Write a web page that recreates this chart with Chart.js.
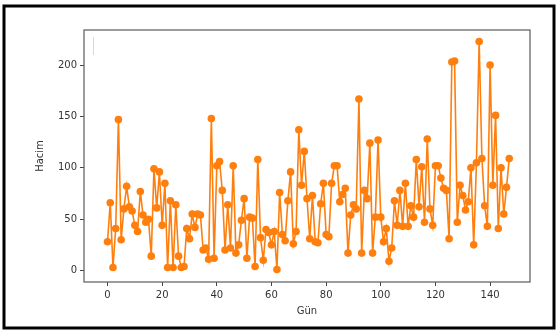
<!DOCTYPE html>
<html>
<head>
<meta charset="utf-8">
<script src="https://cdn.jsdelivr.net/npm/chart.js@4.4.1/dist/chart.umd.min.js"></script>
<style>
  html, body { margin: 0; padding: 0; background: #fff; }
</style>
</head>
<body>
<canvas id="chart" width="558" height="331"></canvas>
<script>
// daily volume ("Hacim") per day ("Gün")
var hacim = [
  28, 66, 3, 41, 147, 30, 60, 82, 62, 58,
  44, 38, 77, 54, 47, 50, 14, 99, 61, 96,
  44, 85, 3, 68, 3, 64, 14, 3, 4, 41,
  31, 55, 42, 55, 54, 20, 22, 11, 148, 12,
  102, 106, 78, 20, 64, 22, 102, 17, 25, 49,
  70, 12, 52, 51, 4, 108, 32, 10, 40, 37,
  25, 38, 1, 76, 35, 29, 68, 96, 26, 38,
  137, 83, 116, 70, 31, 73, 28, 27, 65, 85,
  35, 33, 85, 102, 102, 67, 74, 80, 17, 54,
  64, 60, 167, 17, 78, 70, 124, 17, 52, 127,
  52, 28, 41, 9, 22, 68, 44, 78, 43, 85,
  43, 63, 52, 108, 62, 101, 47, 128, 60, 44,
  102, 102, 90, 80, 78, 31, 203, 204, 47, 83,
  73, 59, 67, 100, 25, 105, 223, 109, 63, 43,
  200, 83, 151, 41, 100, 55, 81, 109
];
var xTicks = [0, 20, 40, 60, 80, 100, 120, 140];
var yTicks = [0, 50, 100, 150, 200];

var points = hacim.map(function(v, i){ return {x: i, y: v}; });

var tickFont = {family: 'DejaVu Sans', size: 10};
var orange = '#ff7f0e';

var frame = {
  id: 'frame',
  afterDraw: function(chart){
    var c = chart.ctx, a = chart.chartArea;
    c.save();
    c.strokeStyle = '#5a5a5a';
    c.lineWidth = 1.2;
    c.strokeRect(a.left, a.top, a.right - a.left, a.bottom - a.top);
    // faint leftover line from the screenshot
    c.strokeStyle = '#d8d8d8';
    c.lineWidth = 1;
    c.beginPath(); c.moveTo(a.left + 9.5, a.top + 7); c.lineTo(a.left + 9.5, a.top + 25); c.stroke();
    // outer black border of the screenshot
    c.strokeStyle = '#000';
    c.lineWidth = 3;
    c.strokeRect(4, 6, 550, 322);
    c.restore();
  }
};

new Chart(document.getElementById('chart'), {
  type: 'line',
  data: {
    datasets: [{
      data: points,
      borderColor: orange,
      backgroundColor: orange,
      borderWidth: 1.6,
      pointRadius: 3.8,
      pointBorderWidth: 0,
      pointBackgroundColor: orange,
      tension: 0
    }]
  },
  options: {
    responsive: false,
    animation: false,
    devicePixelRatio: 1,
    layout: {padding: {left: 30, right: 28, top: 30, bottom: 10}},
    plugins: {legend: {display: false}, tooltip: {enabled: false}},
    scales: {
      x: {
        type: 'linear',
        min: -8.6,
        max: 154.6,
        afterBuildTicks: function(s){ s.ticks = xTicks.map(function(v){ return {value: v}; }); },
        afterFit: function(s){ s.height = 39; },
        ticks: {font: tickFont, color: '#333', padding: 3, maxRotation: 0},
        grid: {drawOnChartArea: false, tickLength: 4, color: '#444'},
        border: {display: false},
        title: {display: true, text: 'Gün', font: tickFont, color: '#333', padding: {top: 2}}
      },
      y: {
        min: -11.15,
        max: 234.15,
        afterBuildTicks: function(s){ s.ticks = yTicks.map(function(v){ return {value: v}; }); },
        afterFit: function(s){ s.width = 54; },
        ticks: {font: tickFont, color: '#333', padding: 3},
        grid: {drawOnChartArea: false, tickLength: 4, color: '#444'},
        border: {display: false},
        title: {display: true, text: 'Hacim', font: tickFont, color: '#333', padding: {bottom: 4}}
      }
    }
  },
  plugins: [frame]
});
</script>
</body>
</html>
